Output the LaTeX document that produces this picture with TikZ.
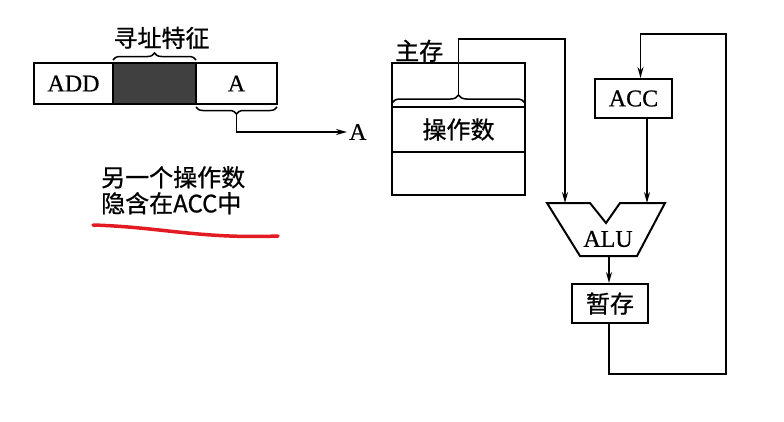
\documentclass[tikz,border=0pt]{standalone}
\usepackage{fontspec}
\setmainfont{Liberation Serif}[UprightFeatures={FakeBold=0.6}]
\newfontfamily\cjk{Noto Sans CJK SC}[UprightFeatures={FakeBold=0.8}]
\usetikzlibrary{arrows.meta,positioning,decorations.pathreplacing}
\definecolor{pen}{RGB}{226,26,34}

\begin{document}
\begin{tikzpicture}[
  x=1pt, y=-1pt,
  font=\fontsize{24}{26}\selectfont,
  cjk/.style={font=\cjk\fontsize{24}{26}\selectfont},
  field/.style={draw, line width=2pt, minimum height=41pt, inner sep=0pt, outer sep=0pt},
  cell/.style={draw, line width=2pt, minimum width=133pt, inner sep=0pt, outer sep=0pt},
  reg/.style={draw, line width=2pt, minimum height=39pt, inner sep=0pt},
  wire/.style={line width=1.5pt},
  arrow/.style={wire, -{Stealth[length=11pt, width=6pt]}},
  brace/.style={wire, decorate, decoration={brace, amplitude=7pt}}
]
\useasboundingbox (0,0) rectangle (784,421);

% instruction word
\node[field, minimum width=79pt, anchor=north west] (add) at (34,63) {ADD};
\node[field, minimum width=83pt, fill=black!75, right=0pt of add] (feat) {};
\node[field, minimum width=81pt, right=0pt of feat] (addr) {A};
\draw[brace] ([yshift=3pt]feat.north west) -- ([yshift=3pt]feat.north east)
  node[midway, above=7pt, xshift=7pt, cjk] (featlbl) {寻址特征};
\draw[brace] ([yshift=-3pt]addr.south east) -- ([yshift=-3pt]addr.south west);
\coordinate (atip) at ([yshift=-10pt]addr.south);
\node[anchor=west, inner sep=2pt] (alab) at (347,132) {A};
\draw[arrow] (atip) |- (alab.west);

% note
\node[cjk, align=left, anchor=north west, inner sep=0pt] (note) at (101,166) {另一个操作数\\隐含在ACC中};
\draw[pen, line width=3.5pt, line cap=round] (93,225) .. controls (160,227) and (200,239) .. (278,236);

% main memory
\node[cell, minimum height=44pt, anchor=north west] (mtop) at (392,63) {};
\node[cell, minimum height=45pt, below=0pt of mtop, cjk] (opnd) {操作数};
\node[cell, minimum height=43pt, below=0pt of opnd] (mbot) {};
\node[cjk, anchor=south west, inner sep=1pt] (memlbl) at ([xshift=2pt]mtop.north west) {主存};
\draw[brace, decoration={amplitude=8pt}] ([yshift=4pt]opnd.north west) -- ([yshift=4pt]opnd.north east);
\coordinate (mtip) at ([yshift=12pt]opnd.north);

% ALU
\coordinate (alu1) at (547,203);
\coordinate (alu2) at (590,203);
\coordinate (alu3) at (606,223);
\coordinate (alu4) at (620,203);
\coordinate (alu5) at (665,203);
\coordinate (alu6) at (637,256);
\coordinate (alu7) at (580,256);
\draw[line width=2pt, line join=miter] (alu1) -- (alu2) -- (alu3) -- (alu4) -- (alu5) -- (alu6) -- (alu7) -- cycle;
\node (alu) at (608,239) {ALU};
\coordinate (aluinA) at (565,203);
\coordinate (aluinB) at (647,203);
\coordinate (aluout) at (609,256);

% registers
\node[reg, minimum width=77pt] (acc) at (633.5,98.5) {ACC};
\node[reg, minimum width=76pt, cjk] (tmp) at (610,303.5) {暂存};
\coordinate (loop) at (726,34);

\draw[arrow] (mtip) -- ++(0,-56) -| (aluinA);
\draw[arrow] (acc.south -| aluinB) -- (aluinB);
\draw[arrow] (aluout) -- (aluout |- tmp.north);
\draw[arrow] (tmp.south -| aluout) -- ++(0,50) -| (loop) -| ([xshift=7pt]acc.north);
\end{tikzpicture}
\end{document}
